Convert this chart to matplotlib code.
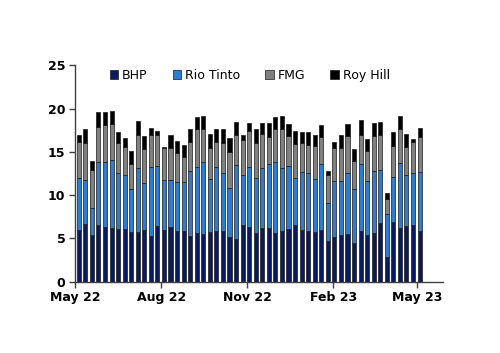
import matplotlib
matplotlib.use("Agg")
import matplotlib.pyplot as plt
import matplotlib.dates as mdates
import numpy as np
import pandas as pd

# weekly shipments, stacked by miner
WEEKS = pd.date_range("2022-05-05", periods=53, freq="7D")

BHP = [6.0, 6.65, 5.4, 6.5, 6.3, 6.2, 6.1, 6.1, 5.7, 5.7, 6.0, 5.3, 6.4,
       6.0, 6.3, 5.8, 5.9, 5.3, 5.6, 5.5, 5.7, 5.8, 5.85, 5.1, 4.9, 6.5,
       6.35, 5.65, 6.15, 6.15, 5.65, 5.9, 6.05, 6.5, 6.0, 5.85, 5.7, 6.0,
       4.7, 5.2, 5.4, 5.45, 4.4, 5.8, 5.4, 5.6, 6.8, 2.8, 6.85, 6.2, 6.4,
       6.5, 5.85]
RIO = [6.0, 5.05, 3.1, 7.3, 7.55, 7.9, 6.4, 6.2, 4.95, 7.4, 5.4, 8.0, 7.0,
       5.8, 5.4, 5.7, 5.6, 7.5, 7.7, 8.3, 6.2, 7.4, 6.75, 5.7, 8.6, 5.8,
       6.85, 6.35, 6.95, 7.5, 8.15, 7.2, 7.3, 5.5, 6.7, 6.65, 6.2, 7.6,
       4.4, 6.45, 6.2, 7.05, 6.25, 7.8, 6.2, 7.2, 6.1, 5.0, 5.25, 7.5, 5.9,
       6.0, 6.85]
FMG = [4.1, 4.3, 4.4, 4.1, 4.25, 4.1, 3.5, 3.3, 2.95, 3.8, 3.9, 3.7, 3.6,
       3.6, 3.7, 3.4, 2.9, 3.3, 4.3, 3.9, 3.6, 2.9, 3.4, 4.2, 3.5, 4.05,
       4.2, 4.0, 4.0, 3.05, 3.8, 4.5, 3.45, 3.95, 3.3, 3.35, 3.75, 3.1,
       3.2, 3.75, 3.8, 4.3, 3.35, 3.4, 3.5, 4.0, 4.1, 1.7, 3.55, 3.9, 3.3,
       3.6, 4.0]
ROY_HILL = [0.8, 1.6, 1.1, 1.7, 1.5, 1.5, 1.3, 1.05, 1.5, 1.7, 1.5, 0.8, 0.4,
            0.2, 1.5, 1.4, 1.45, 1.5, 1.4, 1.5, 1.6, 1.5, 1.7, 1.65, 1.5, 0.65,
            0.95, 1.6, 1.25, 1.65, 1.4, 1.6, 1.4, 1.45, 1.3, 1.45, 1.35, 1.45,
            0.5, 0.7, 1.5, 1.4, 1.3, 1.7, 1.4, 1.55, 1.5, 0.8, 1.65, 1.5, 1.5,
            0.4, 1.1]

SERIES = [("BHP", BHP, "#0a1a5e"),
          ("Rio Tinto", RIO, "#2f7bd0"),
          ("FMG", FMG, "#808080"),
          ("Roy Hill", ROY_HILL, "#000000")]

fig = plt.figure(figsize=(5.0, 3.53), dpi=100)
ax = fig.add_axes([0.15, 0.2025, 0.736, 0.612])

bottom = np.zeros(len(WEEKS))
for name, vals, col in SERIES:
    ax.bar(WEEKS, vals, width=4.3, bottom=bottom, color=col, label=name,
           edgecolor="#1a1a1a", linewidth=0.5)
    bottom += np.array(vals)

ax.set_ylim(0, 25)
ax.set_yticks(range(0, 26, 5))
ax.set_xlim(pd.Timestamp("2022-05-01"), pd.Timestamp("2023-05-29"))
ax.xaxis.set_major_locator(mdates.MonthLocator(bymonth=[2, 5, 8, 11]))
ax.xaxis.set_major_formatter(mdates.DateFormatter("%b %y"))

for s in ["top", "right"]:
    ax.spines[s].set_visible(False)
for s in ["left", "bottom"]:
    ax.spines[s].set_color("#404040")
    ax.spines[s].set_linewidth(1.0)
ax.tick_params(axis="both", colors="#404040", length=4, width=1.0,
               labelsize=9, labelcolor="black", pad=3)
for lab in ax.get_xticklabels() + ax.get_yticklabels():
    lab.set_fontweight("bold")

ax.legend(loc="upper center", bbox_to_anchor=(0.475, 1.035), ncol=4, frameon=False,
          fontsize=9, handlelength=0.7, handleheight=0.7, handletextpad=0.3,
          columnspacing=2.0)

fig.savefig("out.png", dpi=100)
